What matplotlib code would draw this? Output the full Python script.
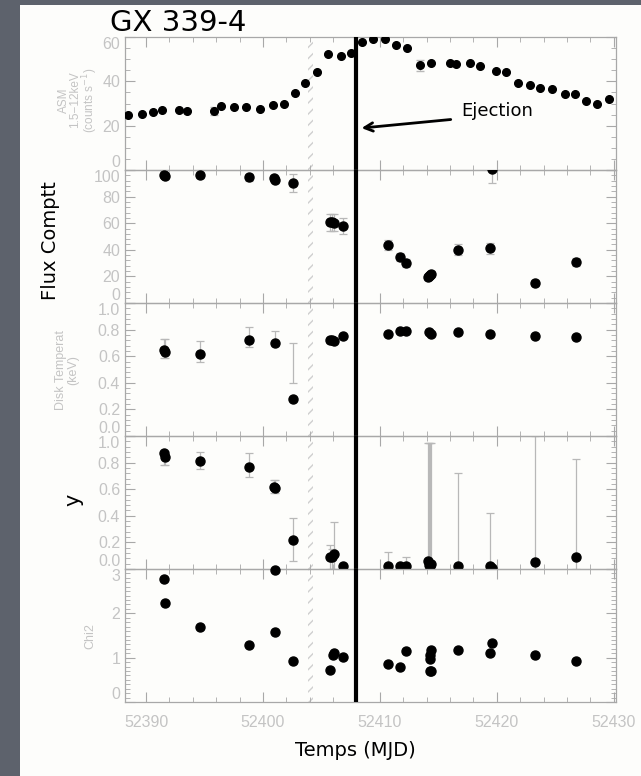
import numpy as np
import matplotlib
matplotlib.use("Agg")
import matplotlib.pyplot as plt
from matplotlib.patches import Rectangle
from matplotlib.ticker import MultipleLocator, FormatStrFormatter

# ASM light curve (counts/s)
asm_t = [52388.46, 52389.68, 52390.59, 52391.39, 52392.82, 52393.52, 52395.79, 52396.39,
         52397.55, 52398.59, 52399.74, 52400.86, 52401.84, 52402.72, 52403.56, 52404.60,
         52405.55, 52406.67, 52407.50, 52408.46, 52409.39, 52410.47, 52411.42, 52412.29,
         52413.41, 52414.38, 52415.96, 52416.52, 52417.71, 52418.55, 52419.91, 52420.78,
         52421.83, 52422.88, 52423.72, 52424.69, 52425.85, 52426.72, 52427.60, 52428.54,
         52429.59]
asm_v = [24.6, 25.3, 26.1, 27.0, 27.0, 26.6, 26.5, 28.7, 28.5, 28.5, 27.6, 29.5, 29.6,
         34.7, 39.1, 44.0, 52.2, 51.3, 52.7, 57.7, 59.1, 59.1, 56.2, 55.1, 47.2, 48.2,
         48.2, 47.6, 48.4, 46.9, 44.6, 44.4, 39.1, 38.3, 37.0, 36.5, 34.2, 34.2, 31.1,
         29.9, 31.9]
asm_e = [0, 0, 0, 0, 0, 0, 1.8, 0, 0, 0, 0, 0, 0, 0, 0, 0, 0, 0, 0, 0, 0, 0, 0, 0,
         2.5, 0, 0, 0, 0, 0, 0, 0, 0, 0, 0, 0, 0, 0, 0, 0, 0]

# flux comptt
flux_t = [52391.5, 52391.6, 52394.6, 52398.8, 52400.95, 52401.05, 52402.6, 52405.7,
          52405.9, 52406.1, 52406.85, 52410.7, 52411.75, 52412.2, 52414.1, 52414.2,
          52414.3, 52414.4, 52416.7, 52419.4, 52419.6, 52423.3, 52426.8]
flux_v = [96.5, 95.8, 96.3, 94.5, 93.8, 92.8, 90.1, 60.8, 60.8, 60.5, 57.8, 43.7, 34.7,
          29.8, 19.5, 20.3, 21.0, 21.8, 40.0, 41.0, 100.5, 15.1, 31.0]
flux_e = [2.5, 2.5, 2.0, 2.5, 2.5, 2.5, 7.0, 6.4, 6.4, 6.4, 5.8, 4.0, 3.0, 3.0, 2.0,
          2.0, 2.0, 2.0, 4.0, 4.0, 10.0, 2.0, 3.0]

# disk temperature (keV), lower / upper error bounds
disk_t = [52391.5, 52391.6, 52394.6, 52398.8, 52401.0, 52402.6, 52405.7, 52405.9,
          52406.1, 52406.85, 52410.7, 52411.75, 52412.2, 52414.2, 52414.4, 52416.7,
          52419.4, 52423.3, 52426.8]
disk_v = [0.65, 0.63, 0.615, 0.72, 0.70, 0.28, 0.72, 0.72, 0.716, 0.754, 0.765, 0.79,
          0.79, 0.78, 0.77, 0.78, 0.77, 0.754, 0.747]
disk_lo = [0.59, 0.59, 0.557, 0.666, 0.68, 0.397, 0.70, 0.70, 0.70, 0.74, 0.75, 0.78,
           0.78, 0.77, 0.76, 0.77, 0.76, 0.74, 0.73]
disk_hi = [0.73, 0.73, 0.716, 0.818, 0.79, 0.696, 0.74, 0.74, 0.73, 0.77, 0.78, 0.80,
           0.80, 0.79, 0.78, 0.79, 0.78, 0.77, 0.76]

# y parameter
y_t = [52391.5, 52391.6, 52394.6, 52398.8, 52400.95, 52401.05, 52402.6, 52405.7,
       52405.9, 52406.1, 52406.85, 52410.7, 52411.75, 52412.2, 52414.1, 52414.2,
       52414.3, 52414.4, 52416.7, 52419.4, 52419.6, 52423.3, 52426.8]
y_v = [0.87, 0.84, 0.81, 0.77, 0.62, 0.61, 0.22, 0.087, 0.09, 0.11, 0.02, 0.02, 0.02,
       0.02, 0.06, 0.03, 0.02, 0.04, 0.02, 0.02, 0.005, 0.055, 0.087]
y_lo = [0.78, 0.78, 0.75, 0.69, 0.57, 0.57, 0.06, 0.0, 0.0, 0.0, 0.0, 0.0, 0.0, 0.0,
        0.0, 0.0, 0.0, 0.0, 0.0, 0.0, 0.0, 0.0, 0.0]
y_hi = [0.89, 0.89, 0.88, 0.87, 0.67, 0.67, 0.38, 0.18, 0.15, 0.35, 0.04, 0.13, 0.04,
        0.09, 0.95, 0.95, 0.95, 0.95, 0.72, 0.42, 0.02, 1.0, 0.83]

# chi2
chi_t = [52391.5, 52391.6, 52394.6, 52398.8, 52401.0, 52401.0, 52402.6, 52405.7,
         52406.0, 52406.1, 52406.85, 52410.7, 52411.75, 52412.2, 52414.35, 52414.3,
         52414.25, 52414.25, 52414.4, 52416.7, 52419.4, 52419.6, 52423.3, 52426.8]
chi_v = [2.77, 2.24, 1.69, 1.29, 1.57, 2.97, 0.92, 0.73, 1.05, 1.11, 1.02, 0.85, 0.79,
         1.14, 1.18, 1.07, 0.96, 0.70, 0.70, 1.18, 1.11, 1.33, 1.05, 0.92]

t_eject = 52408.0
t_hatch = 52404.1
xticks = [52390, 52400, 52410, 52420, 52430]

GREY = '#c4c4c4'
AXC = '#a8a8a8'
ERRC = '#b8b8b8'

fig = plt.figure(figsize=(6.41, 7.76), dpi=100, facecolor='#5d626c')
fig.patches.append(Rectangle((20/641., 0), 621/641., 771/776., transform=fig.transFigure,
                             facecolor='#fdfdfb', edgecolor='none', zorder=-10))
axs = fig.subplots(5, 1, sharex=True)
fig.subplots_adjust(left=125/641., right=616/641., top=1-37/776., bottom=1-702/776., hspace=0)


def draw_err(ax, x, lo, hi):
    ax.vlines(x, lo, hi, color=ERRC, lw=0.9, zorder=2)
    ax.plot(x, lo, ls='none', marker='_', ms=6, mew=0.9, color=ERRC, zorder=2)
    ax.plot(x, hi, ls='none', marker='_', ms=6, mew=0.9, color=ERRC, zorder=2)


a = axs[0]
a.errorbar(asm_t, asm_v, yerr=asm_e, fmt='o', ms=5.5, color='black', ecolor=ERRC,
           elinewidth=0.9, capsize=3, zorder=3)
a.set_ylim(0, 60)
a.set_yticks([0, 20, 40, 60])
a.yaxis.set_minor_locator(MultipleLocator(5))

a = axs[1]
fv = np.array(flux_v); fe = np.array(flux_e)
draw_err(a, flux_t, fv - fe, fv + fe)
a.plot(flux_t, flux_v, 'o', ms=6.5, color='black', zorder=3)
a.set_ylim(0, 100)
a.set_yticks([0, 20, 40, 60, 80, 100])
a.yaxis.set_minor_locator(MultipleLocator(4))

a = axs[2]
draw_err(a, disk_t, disk_lo, disk_hi)
a.plot(disk_t, disk_v, 'o', ms=6.5, color='black', zorder=3)
a.set_ylim(0, 1.0)
a.set_yticks([0, 0.2, 0.4, 0.6, 0.8, 1.0])
a.yaxis.set_minor_locator(MultipleLocator(0.04))
a.yaxis.set_major_formatter(FormatStrFormatter('%.1f'))

a = axs[3]
draw_err(a, y_t, y_lo, y_hi)
a.plot(y_t, y_v, 'o', ms=6.5, color='black', zorder=3)
a.set_ylim(0, 1.0)
a.set_yticks([0, 0.2, 0.4, 0.6, 0.8, 1.0])
a.yaxis.set_minor_locator(MultipleLocator(0.04))
a.yaxis.set_major_formatter(FormatStrFormatter('%.1f'))

a = axs[4]
a.plot(chi_t, chi_v, 'o', ms=6.5, color='black', zorder=3, clip_on=False)
a.set_ylim(0, 3)
a.set_yticks([0, 1, 2, 3])
a.yaxis.set_minor_locator(MultipleLocator(0.1))
a.set_xlim(52388.2, 52430.2)
a.set_xticks(xticks)
a.xaxis.set_minor_locator(MultipleLocator(2))
a.xaxis.set_major_formatter(FormatStrFormatter('%d'))

for a in axs:
    a.set_facecolor('none')
    for s in a.spines.values():
        s.set_color(AXC)
        s.set_linewidth(0.9)
    a.tick_params(which='both', direction='in', top=True, right=True, color=AXC,
                  labelcolor=GREY, labelsize=11.5)
    a.tick_params(which='major', length=7, width=0.8)
    a.tick_params(which='minor', length=3.5, width=0.6)
    a.tick_params(axis='x', pad=9)
    for lab in a.get_yticklabels() + a.get_xticklabels():
        lab.set_family('Liberation Sans')
    # bottom label sits above the panel edge, top label below it
    ticks = a.yaxis.get_major_ticks()
    ticks[0].label1.set_va('bottom')
    ticks[-1].label1.set_va('top')
    # hatched marker and ejection line
    a.axvspan(t_hatch - 0.22, t_hatch + 0.22, hatch='///', fill=False, edgecolor='#cfcfcf',
              lw=0, zorder=1)
    a.axvline(t_eject, color='black', lw=3, zorder=4)

# y labels
fig.text(79/641., 1-100/776., 'ASM\n1.5\u221212keV\n(counts s$^{-1}$)', rotation=90,
         ha='center', va='center', color=GREY, fontsize=8.5, linespacing=0.95,
         family='Liberation Sans')
fig.text(67/641., 1-370/776., 'Disk Temperat\n(keV)', rotation=90, ha='center',
         va='center', color=GREY, fontsize=9, linespacing=0.95, family='Liberation Sans')
fig.text(90/641., 1-636/776., 'Chi2', rotation=90, ha='center', va='center', color=GREY,
         fontsize=9, family='Liberation Sans')
fig.text(50/641., 1-241/776., 'Flux Comptt', rotation=90, ha='center', va='center',
         color='black', fontsize=14)
fig.text(73/641., 1-500/776., 'y', rotation=90, ha='center', va='center',
         color='black', fontsize=15)

fig.text(110/641., 1-23/776., 'GX 339-4', ha='left', va='center', fontsize=21, color='black')
fig.text(355/641., 1-750/776., 'Temps (MJD)', ha='center', va='center', fontsize=14,
         color='black')

axs[0].annotate('', xy=(t_eject + 0.2, 18.8), xytext=(52416.3, 22.9),
                arrowprops=dict(arrowstyle='->,head_length=0.6,head_width=0.3', lw=2,
                                color='black'), zorder=5)
axs[0].text(52417.0, 26.6, 'Ejection', ha='left', va='center', fontsize=13, color='black')

fig.savefig('out.png', dpi=100, facecolor=fig.get_facecolor())
